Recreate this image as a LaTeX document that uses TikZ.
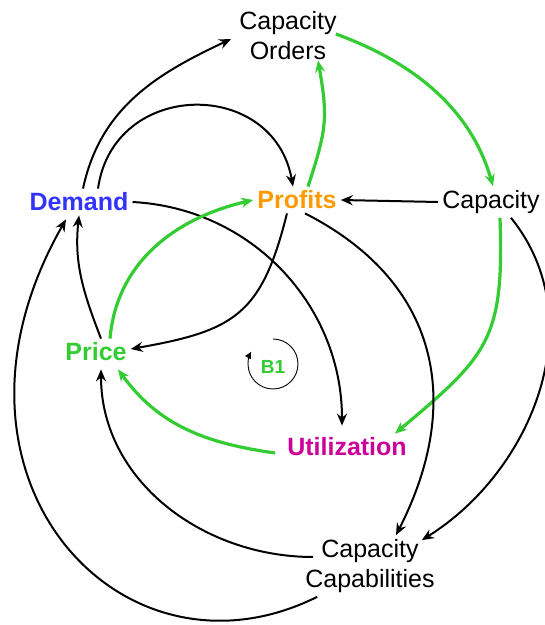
\documentclass[tikz,border=0pt]{standalone}
\usepackage{fontspec}
\setmainfont{Liberation Sans}
\usetikzlibrary{arrows.meta}
\definecolor{loopgreen}{RGB}{51,204,51}
\definecolor{demandblue}{RGB}{51,51,255}
\definecolor{profitorange}{RGB}{255,153,0}
\definecolor{utilmagenta}{RGB}{204,0,153}
\tikzset{
  var/.style={align=center, inner sep=4pt, font=\fontsize{25}{30}\selectfont},
  keyvar/.style={var, font=\fontsize{25}{30}\selectfont\bfseries},
  link/.style={-{Stealth[length=12pt, width=10pt, inset=4pt]}, line width=2pt},
  pluslink/.style={link, draw=loopgreen, line width=3.2pt},
}

\begin{document}
\begin{tikzpicture}[x=1pt, y=1pt]
        \useasboundingbox (0,0) rectangle (545,625);
        \node[var] (orders) at (288,589) {Capacity\\Orders};
        \node[keyvar, text=demandblue] (demand) at (79,423) {Demand};
        \node[keyvar, text=profitorange] (profits) at (297,425) {Profits};
        \node[var] (capacity) at (491,423) {Capacity};
        \node[keyvar, text=loopgreen] (price) at (96,273) {Price};
        \node[keyvar, text=utilmagenta] (util) at (347,178) {Utilization};
        \node[var] (capab) at (370,59) {Capacity\\Capabilities};
        \node[font=\fontsize{19}{22}\selectfont\bfseries, text=loopgreen] (b1) at (273,258) {B1};
        \draw[-{Latex[length=7pt, width=7pt]}, line width=0.9pt]
          ([yshift=28pt]b1.center) arc (90:-210:25);
        \draw[link] ([xshift=4pt]demand.north) to[out=78, in=205] ([xshift=-4pt, yshift=-3pt]orders.west);
        \draw[link] ([xshift=19pt]demand.north) to[out=82, in=100, looseness=1.45] ([xshift=-4pt]profits.north);
        \draw[pluslink] ([xshift=11pt]profits.north) to[out=72, in=-80, looseness=1.2] ([xshift=30pt, yshift=4pt]orders.south);
        \draw[pluslink] ([xshift=-5pt, yshift=2pt]orders.east) to[out=-20, in=106, looseness=0.95] ([xshift=2pt]capacity.north);
        \draw[link] (capacity.west) -- (profits.east);
        \draw[link] (demand.east) to[out=-3, in=90] ([xshift=-5pt, yshift=8pt]util.north);
        \draw[link] ([xshift=-10pt]profits.south) to[out=-104, in=10, looseness=1.3] ([yshift=3pt]price.east);
        \draw[pluslink] ([xshift=14pt]price.north) to[out=85, in=193] (profits.west);
        \draw[link] ([xshift=5pt]price.north) to[out=111, in=-96] (demand.south);
        \draw[link] ([xshift=16pt]capab.south west) .. controls (120,-70) and (-80,150) .. ([xshift=-13pt, yshift=-4pt]demand.south);
        \draw[link] ([xshift=12pt, yshift=9pt]capab.west) to[out=180, in=-90] ([xshift=5pt, yshift=-4pt]price.south);
        \draw[pluslink] ([xshift=-8pt, yshift=-6pt]util.west) to[out=172, in=-54] ([xshift=22pt, yshift=-4pt]price.south);
        \draw[pluslink] ([xshift=9pt]capacity.south) to[out=-88, in=40, looseness=1.3] ([xshift=-16pt]util.north east);
        \draw[link] ([xshift=8pt]profits.south) to[out=-27, in=63, looseness=1.15] ([xshift=26pt]capab.north);
        \draw[link] ([xshift=20pt]capacity.south) to[out=-51, in=32] ([xshift=-17pt, yshift=-5pt]capab.north east);
\end{tikzpicture}
\end{document}
